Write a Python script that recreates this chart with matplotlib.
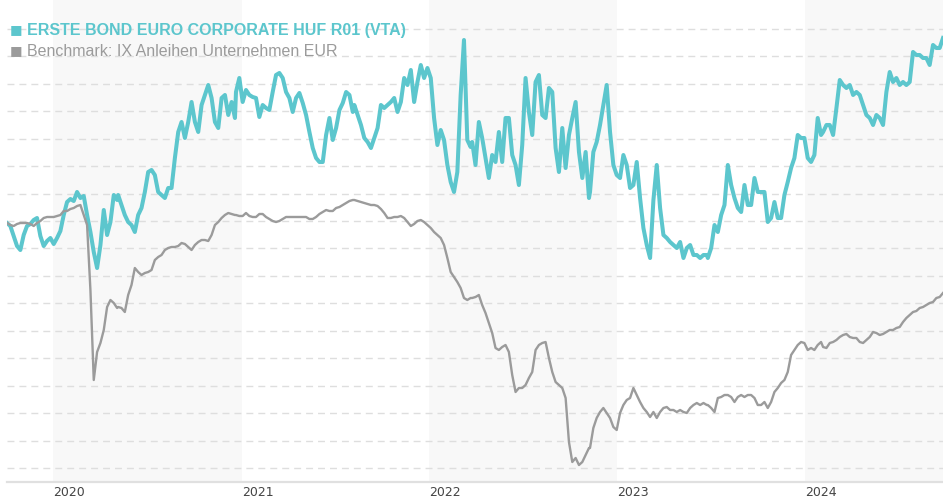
import numpy as np
import pandas as pd
import matplotlib
matplotlib.use("Agg")
import matplotlib.pyplot as plt

# ---- data (index level, arbitrary units), in consecutive date segments ----
seg_starts = ["2019-10-03", "2020-05-06", "2020-12-21", "2021-08-08",
              "2022-03-25", "2022-11-09", "2023-06-26", "2024-02-05"]
seg_ends = ["2020-05-04", "2020-12-19", "2021-08-05", "2022-03-22",
            "2022-11-07", "2023-06-24", "2024-02-01", "2024-09-25"]

fund_1 = [277, 274, 264, 254, 250, 265, 274, 276, 280, 282, 264, 254, 259, 262, 256, 262, 269,
          285, 298, 301, 299, 308, 302, 304, 285, 268, 248, 232, 255, 290, 265, 278, 305, 300]
fund_2 = [305, 295, 285, 278, 275, 268, 285, 292, 308, 328, 330, 325, 308, 305, 302, 312, 312, 342,
          368, 378, 362, 378, 398, 378, 368, 395, 405, 415, 402, 378, 372, 402, 405, 385, 398, 382]
fund_3 = [408, 422, 398, 410, 405, 403, 402, 383, 395, 392, 390, 408, 425, 427, 422, 408, 402, 388,
          402, 407, 397, 385, 368, 352, 342, 338, 338, 365, 382, 360, 372, 390, 397, 408, 405, 388]
fund_4 = [395, 385, 375, 362, 358, 352, 362, 372, 395, 392, 395, 398, 402, 388, 398, 422, 415, 430,
          398, 418, 435, 422, 432, 422, 382, 355, 370, 360, 335, 318, 308, 328, 405, 460, 360, 353]
fund_5 = [358, 335, 378, 362, 342, 322, 345, 338, 368, 338, 382, 382, 345, 335, 315, 355, 422, 388,
          365, 418, 425, 385, 382, 412, 408, 352, 328, 372, 332, 365, 382, 398, 348, 322, 348, 302]
fund_6 = [308, 348, 358, 375, 395, 415, 368, 335, 325, 322, 345, 335, 312, 315, 338, 302, 272, 255,
          242, 300, 335, 292, 265, 262, 258, 255, 252, 258, 242, 252, 255, 245, 245, 242, 245, 245]
fund_7 = [242, 252, 275, 268, 285, 295, 335, 315, 302, 292, 288, 315, 295, 295, 322, 308, 308, 308,
          278, 282, 298, 282, 282, 305, 318, 332, 342, 365, 362, 362, 342, 338, 345, 382, 365]
fund_8 = [368, 375, 375, 365, 392, 420, 415, 412, 415, 405, 408, 405, 395, 385, 382, 375, 385, 382,
          375, 408, 428, 418, 422, 415, 418, 415, 418, 448, 445, 445, 442, 442, 435, 455, 452, 452, 462]

bench_1 = [277, 275, 274, 276, 277, 277, 277, 276, 274, 277, 279, 282, 283, 283, 283, 284, 285,
           289, 289, 291, 292, 294, 295, 285, 275, 210, 120, 148, 157, 170, 193, 200, 197, 192]
bench_2 = [193, 192, 188, 205, 215, 232, 228, 225, 227, 228, 230, 240, 243, 245, 250, 252, 253, 253,
           254, 257, 256, 253, 250, 255, 258, 260, 260, 259, 265, 275, 278, 282, 285, 287, 286, 285]
bench_3 = [285, 284, 284, 287, 284, 283, 283, 286, 286, 283, 281, 279, 278, 279, 281, 283, 283, 283,
           283, 283, 283, 283, 281, 281, 283, 286, 288, 290, 289, 289, 292, 293, 295, 297, 299, 300]
bench_4 = [300, 299, 298, 297, 296, 295, 295, 294, 291, 287, 282, 282, 283, 283, 284, 282, 278, 274,
           276, 279, 280, 278, 275, 272, 268, 265, 262, 255, 242, 228, 223, 218, 212, 202, 200, 202]
bench_5 = [202, 203, 205, 195, 187, 177, 167, 152, 150, 153, 155, 148, 125, 108, 112, 112, 115, 122,
           128, 150, 155, 157, 158, 142, 128, 118, 115, 112, 102, 58, 38, 42, 35, 38, 45, 52]
bench_6 = [52, 72, 82, 88, 92, 87, 82, 73, 70, 87, 95, 100, 102, 112, 105, 98, 92, 88,
           83, 88, 82, 88, 92, 93, 90, 90, 88, 90, 88, 87, 92, 95, 97, 95, 97, 95]
bench_7 = [95, 92, 88, 102, 103, 105, 105, 103, 98, 103, 105, 103, 105, 105, 102, 95, 95, 98,
           92, 98, 108, 112, 117, 120, 128, 145, 150, 155, 158, 157, 150, 152, 150, 155, 158]
bench_8 = [153, 152, 157, 158, 160, 163, 165, 166, 163, 162, 162, 158, 157, 160, 163, 168, 167, 165,
           166, 168, 170, 170, 172, 173, 178, 182, 185, 188, 189, 192, 193, 195, 197, 198, 202, 203, 207]

fund_segments = [fund_1, fund_2, fund_3, fund_4, fund_5, fund_6, fund_7, fund_8]
bench_segments = [bench_1, bench_2, bench_3, bench_4, bench_5, bench_6, bench_7, bench_8]

fund_label = "ERSTE BOND EURO CORPORATE HUF R01 (VTA)"
bench_label = "Benchmark: IX Anleihen Unternehmen EUR"
years = [2020, 2021, 2022, 2023, 2024]
shaded_years = [2020, 2022, 2024]


def build(segments):
    d, v = [], []
    for s, e, vals in zip(seg_starts, seg_ends, segments):
        d.extend(pd.date_range(s, e, periods=len(vals)))
        v.extend(vals)
    return pd.DatetimeIndex(d), np.array(v, dtype=float)


fund_dates, fund_vals = build(fund_segments)
bench_dates, bench_vals = build(bench_segments)

TEAL = "#5cc6cd"
GREY = "#9b9b9b"

fig = plt.figure(figsize=(9.43, 5.0), dpi=100)
ax = fig.add_axes([7 / 943, 18 / 500, 936 / 943, 482 / 500])

x_left = pd.Timestamp(seg_starts[0])
x_right = pd.Timestamp(seg_ends[-1])
ax.set_xlim(x_left, x_right)
ax.set_ylim(18, 500)

# year bands
for y in shaded_years:
    ax.axvspan(pd.Timestamp(f"{y}-01-01"), min(pd.Timestamp(f"{y + 1}-01-01"), x_right),
               color="#f8f8f8", zorder=0, lw=0)

# dashed grid
ax.set_yticks(32 + 27.44 * np.arange(17))
ax.yaxis.grid(True, color="#dedede", linestyle=(0, (5, 3.6)), linewidth=1.0, zorder=1)
ax.tick_params(axis="y", left=False, labelleft=False)

ax.plot(fund_dates, fund_vals, color=TEAL, lw=2.9, zorder=3, solid_joinstyle="round")
ax.plot(bench_dates, bench_vals, color=GREY, lw=1.7, zorder=4, solid_joinstyle="round")

for s in ["top", "right", "left"]:
    ax.spines[s].set_visible(False)
ax.spines["bottom"].set_color("#e0e0e0")
ax.spines["bottom"].set_linewidth(1.6)

ax.set_xticks([pd.Timestamp(f"{y}-01-01") for y in years])
ax.set_xticklabels([str(y) for y in years], ha="left", fontsize=9, color="#444444",
                   family="DejaVu Sans")
ax.tick_params(axis="x", length=0, pad=3)

# legend
fig.text(10 / 943, 1 - 30 / 500, "\u25A0", color=TEAL, fontsize=9.5, va="center", ha="left",
         family="DejaVu Sans")
fig.text(27 / 943, 1 - 30 / 500, fund_label, color=TEAL, fontsize=11.5, fontweight="bold",
         va="center", ha="left", family="Liberation Sans")
fig.text(10 / 943, 1 - 51 / 500, "\u25A0", color=GREY, fontsize=9.5, va="center", ha="left",
         family="DejaVu Sans")
fig.text(27 / 943, 1 - 51 / 500, bench_label, color=GREY, fontsize=11.5,
         va="center", ha="left", family="Liberation Sans")

fig.savefig("out.png", dpi=100)
